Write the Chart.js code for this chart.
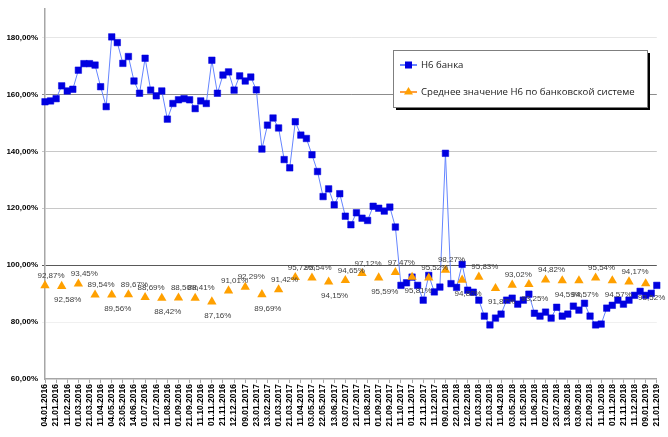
<!DOCTYPE html>
<html><head><meta charset="utf-8">
<script src="https://cdn.jsdelivr.net/npm/chart.js@4/dist/chart.umd.min.js"></script>
<style>html,body{margin:0;padding:0;background:#fff}#w{width:668px;height:437px;position:relative}</style>
</head><body><div id="w"><canvas id="c"></canvas></div>
<script>
const dates = [
"04.01.2016","11.01.2016","21.01.2016","01.02.2016","11.02.2016","21.02.2016","01.03.2016","11.03.2016","21.03.2016",
"01.04.2016","11.04.2016","21.04.2016","04.05.2016","11.05.2016","23.05.2016","01.06.2016","14.06.2016","21.06.2016",
"01.07.2016","11.07.2016","21.07.2016","01.08.2016","11.08.2016","22.08.2016","01.09.2016","12.09.2016","21.09.2016",
"03.10.2016","11.10.2016","21.10.2016","01.11.2016","11.11.2016","21.11.2016","01.12.2016","12.12.2016","21.12.2016",
"09.01.2017","11.01.2017","23.01.2017","01.02.2017","13.02.2017","21.02.2017","01.03.2017","13.03.2017","21.03.2017",
"03.04.2017","11.04.2017","21.04.2017","03.05.2017","11.05.2017","22.05.2017","01.06.2017","13.06.2017","21.06.2017",
"03.07.2017","11.07.2017","21.07.2017","01.08.2017","11.08.2017","21.08.2017","01.09.2017","11.09.2017","21.09.2017",
"02.10.2017","11.10.2017","23.10.2017","01.11.2017","13.11.2017","21.11.2017","01.12.2017","11.12.2017","21.12.2017",
"09.01.2018","11.01.2018","22.01.2018","01.02.2018","12.02.2018","21.02.2018","01.03.2018","12.03.2018","21.03.2018",
"02.04.2018","11.04.2018","23.04.2018","03.05.2018","11.05.2018","21.05.2018","01.06.2018","11.06.2018","21.06.2018",
"02.07.2018","11.07.2018","23.07.2018","01.08.2018","13.08.2018","21.08.2018","03.09.2018","11.09.2018","21.09.2018",
"01.10.2018","11.10.2018","22.10.2018","01.11.2018","12.11.2018","21.11.2018","03.12.2018","11.12.2018","21.12.2018",
"09.01.2019","14.01.2019","21.01.2019"
];
const bankN6 = [
157.4,157.7,158.5,163.0,161.2,161.8,168.5,170.8,170.8,170.3,162.7,155.7,180.2,178.2,170.9,173.3,164.7,160.4,
172.7,161.5,159.5,161.2,151.3,156.8,158.1,158.5,158.1,155.0,157.7,156.8,172.0,160.4,166.8,167.9,161.5,166.5,
164.7,166.1,161.6,140.8,149.2,151.7,148.2,137.1,134.2,150.4,145.7,144.5,138.8,132.9,124.1,126.8,121.2,125.1,
117.2,114.2,118.4,116.5,115.7,120.7,120.0,119.0,120.4,113.4,92.9,93.8,95.8,92.9,87.7,96.4,90.6,92.3,
139.3,93.5,92.2,100.3,91.2,90.5,87.7,82.1,79.0,81.4,82.8,87.7,88.4,86.3,87.7,89.8,83.1,82.1,
83.5,81.4,85.2,82.1,82.8,85.6,84.2,86.6,82.1,79.0,79.3,84.9,85.9,87.7,86.3,87.7,89.4,90.8,
89.4,90.1,92.9
];
const avgDates = [
"04.01.2016","01.02.2016","01.03.2016","01.04.2016","04.05.2016","01.06.2016","01.07.2016","01.08.2016","01.09.2016","03.10.2016","01.11.2016","01.12.2016",
"09.01.2017","01.02.2017","01.03.2017","03.04.2017","03.05.2017","01.06.2017","03.07.2017","01.08.2017","01.09.2017","02.10.2017","01.11.2017","01.12.2017",
"09.01.2018","01.02.2018","01.03.2018","02.04.2018","03.05.2018","01.06.2018","02.07.2018","01.08.2018","03.09.2018","01.10.2018","01.11.2018","03.12.2018",
"09.01.2019"
];
const avgN6 = [
92.87,92.58,93.45,89.54,89.56,89.67,88.69,88.42,88.50,88.41,87.16,91.01,
92.29,89.69,91.42,95.72,95.54,94.15,94.65,97.12,95.59,97.47,95.81,95.52,
98.27,94.80,95.83,91.87,93.02,93.25,94.82,94.59,94.57,95.54,94.57,94.17,
93.52
];
const yTickValues = [60,80,100,120,140,160,180];
const seriesNames = ["Н6 банка","Среднее значение Н6 по банковской системе"];

// label placement: 1 = above, -1 = below
const labelSide = [1,-1,1,1,-1,1,1,-1,1,1,-1,1,1,-1,1,1,1,-1,1,1,-1,1,-1,1,1,-1,1,-1,1,-1,1,-1,-1,1,-1,1,-1];

const fmt = v => v.toFixed(2).replace('.', ',') + '%';
const gridColors = {180:'#e6e6e6',160:'#8c8c8c',140:'#c8c8c8',120:'#c8c8c8',100:'#595959',80:'#f0f0f0',60:'rgba(0,0,0,0)'};

const labelsPlugin = {
  id:'avgLabels',
  afterDatasetsDraw(chart){
    const ctx = chart.ctx;
    const meta = chart.getDatasetMeta(1);
    ctx.save();
    ctx.font = '8px "Liberation Sans", Arial, sans-serif';
    ctx.fillStyle = '#404040';
    ctx.textAlign = 'center';
    ctx.textBaseline = 'middle';
    meta.data.forEach((pt, i) => {
      const side = labelSide[i] || 1;
      const y = side > 0 ? pt.y - 10 : pt.y + 14;
      ctx.fillText(fmt(avgN6[i]), pt.x + 6, y);
    });
    ctx.restore();
  }
};

const legendPlugin = {
  id:'boxLegend',
  afterDraw(chart){
    const ctx = chart.ctx;
    const x = 393, y = 50, w = 254, h = 57;
    ctx.save();
    ctx.fillStyle = '#000';
    ctx.fillRect(x + 3, y + 3, w, h);
    ctx.fillStyle = '#fff';
    ctx.fillRect(x, y, w, h);
    ctx.strokeStyle = '#7f7f7f';
    ctx.lineWidth = 1;
    ctx.strokeRect(x + 0.5, y + 0.5, w, h);
    const y1 = 65, y2 = 92;
    ctx.strokeStyle = '#3a5dff';
    ctx.lineWidth = 1.5;
    ctx.beginPath(); ctx.moveTo(400, y1); ctx.lineTo(417, y1); ctx.stroke();
    ctx.fillStyle = '#0000e0';
    ctx.fillRect(405, y1 - 3.5, 7, 7);
    ctx.strokeStyle = '#ff7f00';
    ctx.beginPath(); ctx.moveTo(400, y2); ctx.lineTo(417, y2); ctx.stroke();
    ctx.fillStyle = '#ffa000';
    ctx.beginPath(); ctx.moveTo(408.5, y2 - 5); ctx.lineTo(413, y2 + 2.5); ctx.lineTo(404, y2 + 2.5); ctx.closePath(); ctx.fill();
    ctx.fillStyle = '#202020';
    ctx.font = '9.6px "Open Sans", "Noto Sans", sans-serif';
    ctx.textBaseline = 'middle';
    ctx.textAlign = 'left';
    ctx.fillText(seriesNames[0], 421, y1);
    ctx.fillText(seriesNames[1], 421, y2);
    ctx.restore();
  }
};

new Chart(document.getElementById('c'), {
  type:'line',
  data:{
    labels: dates,
    datasets:[
      {
        label: seriesNames[0],
        data: bankN6,
        borderColor:'#6585ff',
        borderWidth:1,
        pointStyle:'rect',
        pointRadius:4.6,
        pointBorderWidth:0.5,
        pointBackgroundColor:'#0000e0',
        pointBorderColor:'#0000e0',
        tension:0,
        order:2
      },
      {
        label: seriesNames[1],
        data: avgDates.map((d,i)=>({x:d, y:avgN6[i]})),
        showLine:false,
        borderColor:'#ff8c00',
        pointStyle:'triangle',
        pointRadius:5.4,
        pointBorderWidth:0,
        pointBackgroundColor:'#ffa000',
        pointBorderColor:'#ffa000',
        order:1
      }
    ]
  },
  options:{
    responsive:true,
    maintainAspectRatio:false,
    animation:false,
    devicePixelRatio:1,
    layout:{padding:{left:0,right:6,top:9,bottom:0}},
    plugins:{legend:{display:false},tooltip:{enabled:false}},
    scales:{
      x:{
        type:'category',
        offset:false,
        border:{display:true,color:'#a6a6a6',width:1.5},
        grid:{
          drawOnChartArea:false,
          tickLength:4,
          color:(c)=> (c.index % 2 === 0 ? '#a6a6a6' : 'rgba(0,0,0,0)')
        },
        ticks:{
          autoSkip:false,
          maxRotation:90,
          minRotation:90,
          padding:1,
          color:'#000',
          font:{family:'"Liberation Sans", Arial, sans-serif',size:8.5,weight:'bold'},
          callback:function(v,i){ return i % 2 === 0 ? this.getLabelForValue(v) : ''; }
        },
        afterFit:(s)=>{ s.height = 58; }
      },
      y:{
        min:60,
        max:190,
        border:{display:true,color:'#a6a6a6',width:1.5},
        afterBuildTicks:(s)=>{ s.ticks = yTickValues.map(v=>({value:v})); },
        grid:{
          tickLength:3,
          color:(c)=> gridColors[c.tick && c.tick.value] || 'rgba(0,0,0,0)'
        },
        ticks:{
          color:'#000',
          padding:4,
          font:{family:'"Liberation Sans", Arial, sans-serif',size:8,weight:'bold'},
          callback:(v)=> fmt(v)
        },
        afterFit:(s)=>{ s.width = 45; }
      }
    }
  },
  plugins:[labelsPlugin, legendPlugin]
});
</script>
</body></html>
